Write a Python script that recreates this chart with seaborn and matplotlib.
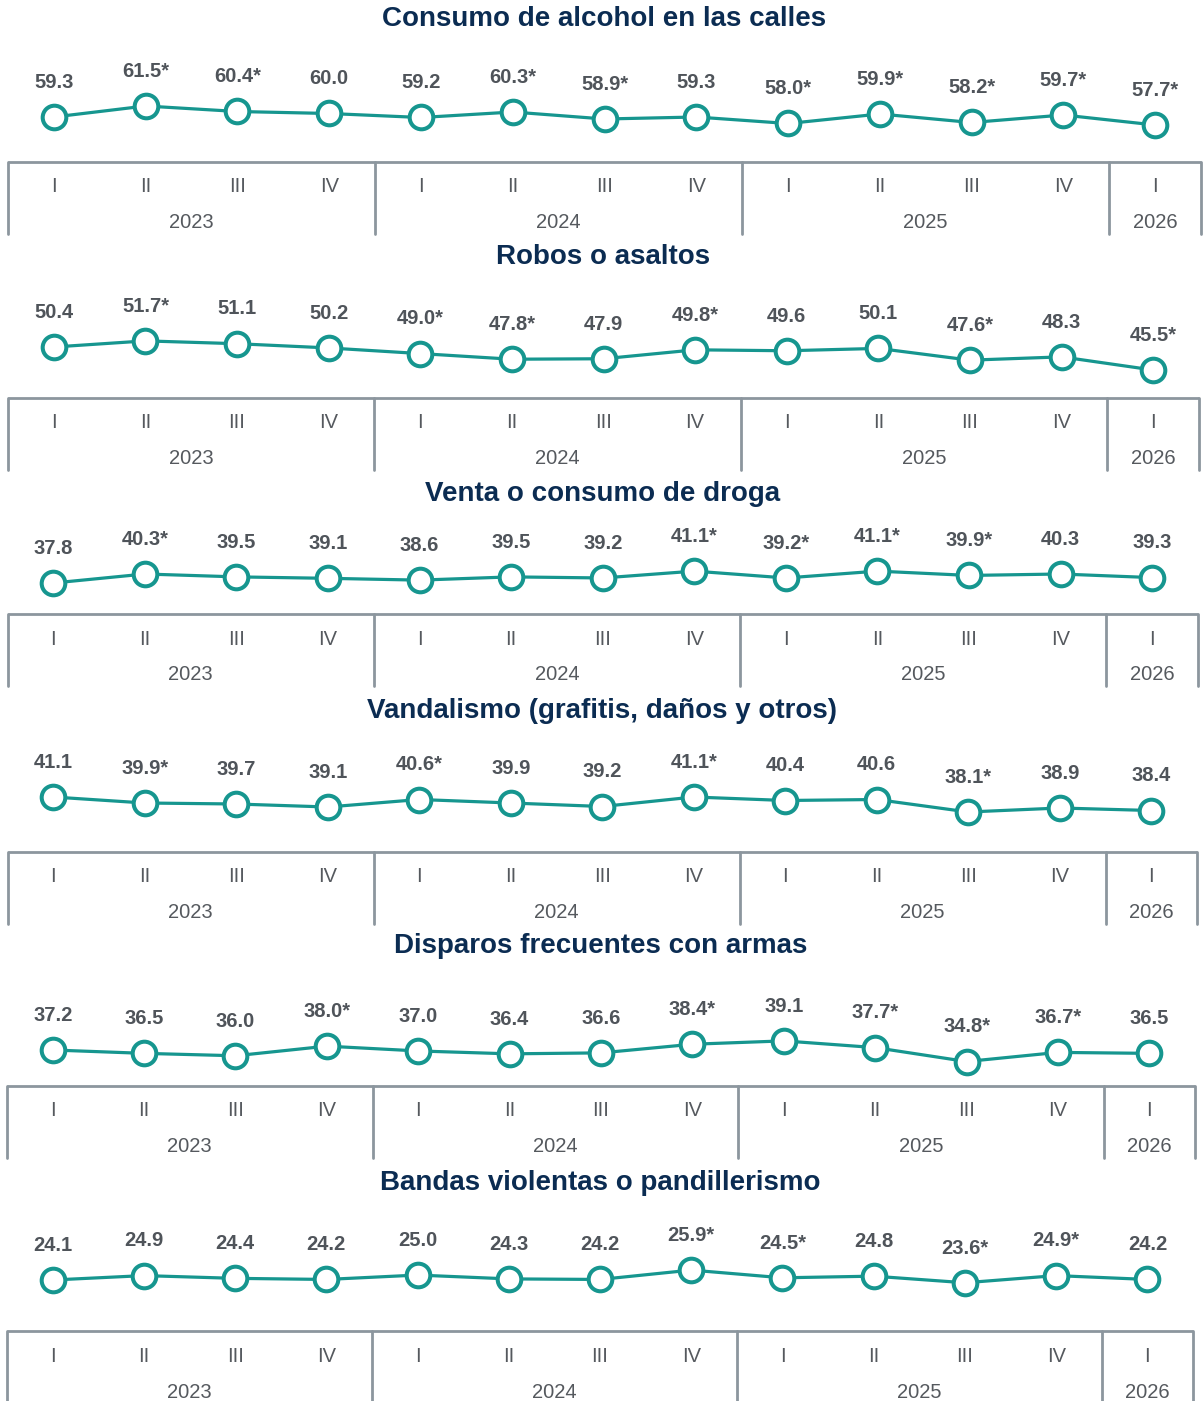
import matplotlib
matplotlib.use("Agg")
import matplotlib.pyplot as plt
import seaborn as sns
import numpy as np
import pandas as pd

sns.set_theme(style="white")
plt.rcParams['font.family'] = ['Liberation Sans', 'DejaVu Sans']

# ---------------- data ----------------
quarters = ["I", "II", "III", "IV", "I", "II", "III", "IV", "I", "II", "III", "IV", "I"]
years = ["2023", "2024", "2025", "2026"]
year_spans = [(0, 3), (4, 7), (8, 11), (12, 12)]

titles = [
    "Consumo de alcohol en las calles",
    "Robos o asaltos",
    "Venta o consumo de droga",
    "Vandalismo (grafitis, daños y otros)",
    "Disparos frecuentes con armas",
    "Bandas violentas o pandillerismo",
]

alcohol = [59.3, 61.5, 60.4, 60.0, 59.2, 60.3, 58.9, 59.3, 58.0, 59.9, 58.2, 59.7, 57.7]
alcohol_sig = [0, 1, 1, 0, 0, 1, 1, 0, 1, 1, 1, 1, 1]
robos = [50.4, 51.7, 51.1, 50.2, 49.0, 47.8, 47.9, 49.8, 49.6, 50.1, 47.6, 48.3, 45.5]
robos_sig = [0, 1, 0, 0, 1, 1, 0, 1, 0, 0, 1, 0, 1]
droga = [37.8, 40.3, 39.5, 39.1, 38.6, 39.5, 39.2, 41.1, 39.2, 41.1, 39.9, 40.3, 39.3]
droga_sig = [0, 1, 0, 0, 0, 0, 0, 1, 1, 1, 1, 0, 0]
vandalismo = [41.1, 39.9, 39.7, 39.1, 40.6, 39.9, 39.2, 41.1, 40.4, 40.6, 38.1, 38.9, 38.4]
vandalismo_sig = [0, 1, 0, 0, 1, 0, 0, 1, 0, 0, 1, 0, 0]
disparos = [37.2, 36.5, 36.0, 38.0, 37.0, 36.4, 36.6, 38.4, 39.1, 37.7, 34.8, 36.7, 36.5]
disparos_sig = [0, 0, 0, 1, 0, 0, 0, 1, 0, 1, 1, 1, 0]
bandas = [24.1, 24.9, 24.4, 24.2, 25.0, 24.3, 24.2, 25.9, 24.5, 24.8, 23.6, 24.9, 24.2]
bandas_sig = [0, 0, 0, 0, 0, 0, 0, 1, 1, 0, 1, 1, 0]

series = [alcohol, robos, droga, vandalismo, disparos, bandas]
sigs = [alcohol_sig, robos_sig, droga_sig, vandalismo_sig, disparos_sig, bandas_sig]

# ---------------- layout (pixels) ----------------
W, H = 1204, 1401
fig = plt.figure(figsize=(W / 100, H / 100), dpi=100)
fig.patch.set_facecolor("white")

title_y = [19, 257, 494, 711, 946, 1183]
table_top = [162, 398, 614, 852, 1086, 1331]
# anchor: (pixel y of first point, pixels per unit)
anchors = [(117, 5.0), (347, 4.7), (583, 3.6), (797, 5.0), (1050, 4.8), (1280, 5.5)]
lefts = [8, 8, 7.5, 7.5, 7, 7]
rights = [1201, 1199, 1198, 1197, 1195, 1193]

TEAL = "#16968f"
NAVY = "#0b2c52"
LABEL = "#4f545a"
GRID = "#8c969e"
TXT = "#55595e"

def fx(px):
    return px / W

def fy(py):
    return 1 - py / H

for i in range(6):
    vals = series[i]
    sig = sigs[i]
    xl, xr = lefts[i], rights[i]
    top_px = title_y[i] + 22
    bot_px = table_top[i]
    p0, s = anchors[i]
    v0 = vals[0]
    y_low = v0 - (bot_px - p0) / s
    y_high = v0 + (p0 - top_px) / s

    ax = fig.add_axes([fx(xl), fy(bot_px), fx(xr - xl), (bot_px - top_px) / H])
    df = pd.DataFrame({"x": np.arange(len(vals)), "y": vals})
    sns.lineplot(data=df, x="x", y="y", ax=ax, color=TEAL, linewidth=2.3,
                 marker="o", markersize=17, markerfacecolor="white",
                 markeredgecolor=TEAL, markeredgewidth=2.9)
    for j, v in enumerate(vals):
        lab = f"{v:.1f}" + ("*" if sig[j] else "")
        ax.annotate(lab, (j, v), xytext=(0, 25), textcoords="offset points",
                    ha="center", va="center", fontsize=14.5, fontweight="bold",
                    color=LABEL, annotation_clip=False)
    ax.set_xlim(-0.5, len(vals) - 0.5)
    ax.set_ylim(y_low, y_high)
    ax.axis("off")

    fig.text(fx((xl + xr) / 2), fy(title_y[i]), titles[i], ha="center", va="center",
             fontsize=20, fontweight="bold", color=NAVY)

    # table axis
    tab_h = 72
    tax = fig.add_axes([fx(xl), fy(bot_px + tab_h), fx(xr - xl), tab_h / H])
    tax.set_xlim(-0.5, len(vals) - 0.5)
    tax.set_ylim(1, 0)
    tax.axis("off")
    tax.plot([-0.5, len(vals) - 0.5], [0, 0], color=GRID, lw=2, clip_on=False,
             solid_capstyle="butt")
    bounds = [-0.5] + [b + 0.5 for (_, b) in year_spans]
    for b in bounds:
        tax.plot([b, b], [0, 1], color=GRID, lw=2, clip_on=False)
    for j, q in enumerate(quarters):
        tax.text(j, 25 / tab_h, q, ha="center", va="center", fontsize=14.5, color=TXT)
    for (a, b), yr in zip(year_spans, years):
        tax.text((a + b) / 2, 61 / tab_h, yr, ha="center", va="center", fontsize=14.5, color=TXT)

fig.savefig("out.png", dpi=100, facecolor="white")
